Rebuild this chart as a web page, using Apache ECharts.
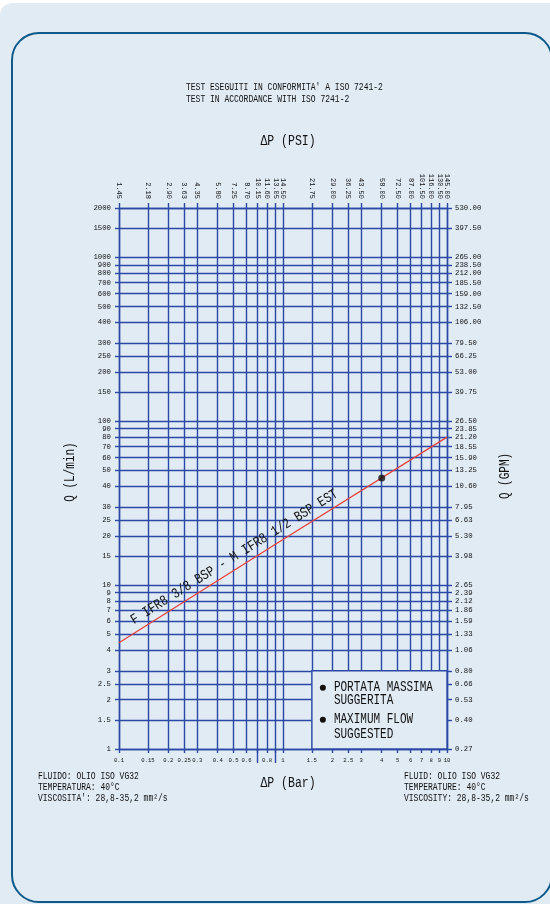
<!DOCTYPE html>
<html><head><meta charset="utf-8">
<script src="https://cdn.jsdelivr.net/npm/echarts@6/dist/echarts.min.js"></script>
<style>
html,body{margin:0;padding:0;background:#ffffff;width:550px;height:904px;overflow:hidden}
#bg{position:absolute;left:0;top:3px;width:550px;height:901px;background:#e0ebf4;border-top-left-radius:12px}
#frame{position:absolute;left:11px;top:32px;width:542px;height:871px;border:2.5px solid #0d5a8a;border-radius:28px;box-sizing:border-box}
#chart{position:absolute;left:0;top:0;width:550px;height:904px}
</style></head><body>
<div id="bg"></div><div id="frame"></div><div id="chart"></div>
<script>
// ---- data ----
const barTicks = [0.1,0.15,0.2,0.25,0.3,0.4,0.5,0.6,0.7,0.8,0.9,1,1.5,2,2.5,3,4,5,6,7,8,9,10];
const barLabelTicks = [0.1,0.15,0.2,0.25,0.3,0.4,0.5,0.6,0.8,1,1.5,2,2.5,3,4,5,6,7,8,9,10];
const barLongTicks = [0.7,0.9];
const psiLabels = ['1.45','2.18','2.90','3.63','4.35','5.80','7.25','8.70','10.15','11.60','13.05','14.50','21.75','29.00','36.25','43.50','58.00','72.50','87.00','101.50','116.00','130.50','145.00'];
const qTicks = [1,1.5,2,2.5,3,4,5,6,7,8,9,10,15,20,25,30,40,50,60,70,80,90,100,150,200,250,300,400,500,600,700,800,900,1000,1500,2000];
const gpmLabels = ['0.27','0.40','0.53','0.66','0.80','1.06','1.33','1.59','1.86','2.12','2.39','2.65','3.98','5.30','6.63','7.95','10.60','13.25','15.90','18.55','21.20','23.85','26.50','39.75','53.00','66.25','79.50','106.00','132.50','159.00','185.50','212.00','238.50','265.00','397.50','530.00'];
const curveDp = [0.1, 1, 10];
const curveQ = [4.45, 19, 80];
const maxPoint = [4, 45];
const curveName = 'F IFR8 3/8 BSP - M IFR8 1/2 BSP EST';
const legendBox = [[1.5, 3], [10, 1]];

// ---- styles ----
const GRID = '#2b48a4';
const TXT = '#111111';
const FONT = '"Liberation Mono", "DejaVu Sans Mono", monospace';

function nearestIdx(arr, v) {
  let best = 0, bd = Infinity;
  arr.forEach((a, i) => { const d = Math.abs(Math.log(a) - Math.log(v)); if (d < bd) { bd = d; best = i; } });
  return best;
}

const chart = echarts.init(document.getElementById('chart'), null, {renderer: 'canvas'});
const lineStyle = {color: GRID, width: 1.4};
chart.setOption({
  backgroundColor: 'transparent',
  animation: false,
  grid: {left: 119, right: 103, top: 208, bottom: 155},
  xAxis: [
    {
      type: 'log', logBase: 10, min: 0.1, max: 10, position: 'bottom',
      axisLine: {show: true, lineStyle},
      axisTick: {show: true, customValues: barTicks, length: 4, lineStyle},
      axisLabel: {show: true, customValues: barLabelTicks, margin: 9, fontSize: 5.6, fontFamily: FONT, color: TXT,
        formatter: v => String(barLabelTicks[nearestIdx(barLabelTicks, v)])},
      splitLine: {show: true, lineStyle},
      minorTick: {show: false}
    },
    {
      type: 'log', logBase: 10, min: 0.1, max: 10, position: 'top',
      axisLine: {show: true, lineStyle},
      axisTick: {show: true, customValues: barTicks, length: 5, lineStyle},
      axisLabel: {show: true, customValues: barTicks, rotate: 90, margin: 9, fontSize: 7, fontFamily: FONT, color: TXT,
        formatter: v => psiLabels[nearestIdx(barTicks, v)]},
      splitLine: {show: false}
    },
    {
      type: 'log', logBase: 10, min: 0.1, max: 10, position: 'bottom',
      axisLine: {show: false},
      axisTick: {show: true, customValues: barLongTicks, length: 14, lineStyle},
      axisLabel: {show: false},
      splitLine: {show: false}
    }
  ],
  yAxis: [
    {
      type: 'log', logBase: 10, min: 1, max: 2000, position: 'left',
      axisLine: {show: true, lineStyle},
      axisTick: {show: true, customValues: qTicks, length: 4, lineStyle},
      axisLabel: {show: true, customValues: qTicks, margin: 8, fontSize: 7.3, fontFamily: FONT, color: TXT,
        formatter: v => String(qTicks[nearestIdx(qTicks, v)])},
      splitLine: {show: true, lineStyle}
    },
    {
      type: 'log', logBase: 10, min: 1, max: 2000, position: 'right',
      axisLine: {show: true, lineStyle},
      axisTick: {show: true, customValues: qTicks, length: 5, lineStyle},
      axisLabel: {show: true, customValues: qTicks, margin: 8, fontSize: 7.3, fontFamily: FONT, color: TXT,
        formatter: v => gpmLabels[nearestIdx(qTicks, v)]},
      splitLine: {show: false}
    }
  ],
  series: [
    {
      type: 'line', xAxisIndex: 0, yAxisIndex: 0,
      data: curveDp.map((d, i) => [d, curveQ[i]]),
      showSymbol: false, symbol: 'none',
      lineStyle: {color: '#e8403a', width: 1.3},
      z: 3,
      markArea: {
        silent: true,
        itemStyle: {color: '#e0ebf4', borderColor: GRID, borderWidth: 1.4, opacity: 1},
        data: [[{coord: legendBox[0]}, {coord: legendBox[1]}]]
      }
    },
    {
      type: 'scatter', xAxisIndex: 0, yAxisIndex: 0,
      data: [maxPoint], symbol: 'circle', symbolSize: 7,
      itemStyle: {color: '#111111'}, z: 4
    }
  ]
});

const toPx = p => chart.convertToPixel({xAxisIndex: 0, yAxisIndex: 0}, p);
const p0 = toPx([curveDp[0], curveQ[0]]);
const p1 = toPx([curveDp[curveDp.length - 1], curveQ[curveQ.length - 1]]);
const ang = Math.atan2(p0[1] - p1[1], p1[0] - p0[0]);
const f = 0.37;
const anc = [p0[0] + f * (p1[0] - p0[0]), p0[1] + f * (p1[1] - p0[1])];
const off = 4;
const ancOff = [anc[0] - off * Math.sin(ang), anc[1] - off * Math.cos(ang)];
const box = toPx(legendBox[0]);

const SY = 1.25;
const txt = (x, y, text, extra, rot) => ({
  type: 'text', x, y, z: 10, scaleY: SY, rotation: rot || 0,
  style: Object.assign({text, fill: TXT, font: '8px ' + FONT, textAlign: 'left', textVerticalAlign: 'middle'}, extra || {})
});

chart.setOption({
  graphic: [
    txt(186, 87, "TEST ESEGUITI IN CONFORMITA' A ISO 7241-2"),
    txt(186, 99, 'TEST IN ACCORDANCE WITH ISO 7241-2'),
    txt(288, 141, 'ΔP (PSI)', {font: '11.5px ' + FONT, textAlign: 'center'}),
    txt(288, 783, 'ΔP (Bar)', {font: '11.5px ' + FONT, textAlign: 'center'}),
    txt(70, 472, 'Q (L/min)', {font: '11px ' + FONT, textAlign: 'center'}, Math.PI / 2),
    txt(505, 476, 'Q (GPM)', {font: '11px ' + FONT, textAlign: 'center'}, Math.PI / 2),
    txt(38, 776, 'FLUIDO: OLIO ISO VG32'),
    txt(38, 787, 'TEMPERATURA: 40°C'),
    txt(38, 798, 'VISCOSITA\': 28,8-35,2 mm²/s'),
    txt(404, 776, 'FLUID: OLIO ISO VG32'),
    txt(404, 787, 'TEMPERATURE: 40°C'),
    txt(404, 798, 'VISCOSITY: 28,8-35,2 mm²/s'),
    txt(ancOff[0], ancOff[1], curveName, {font: '11.5px ' + FONT, textAlign: 'center', textVerticalAlign: 'bottom'}, ang),
    {type: 'circle', z: 10, shape: {cx: box[0] + 11, cy: box[1] + 17, r: 3}, style: {fill: '#111'}},
    {type: 'circle', z: 10, shape: {cx: box[0] + 11, cy: box[1] + 49, r: 3}, style: {fill: '#111'}},
    txt(box[0] + 22, box[1] + 17, 'PORTATA MASSIMA', {font: '11px ' + FONT}),
    txt(box[0] + 22, box[1] + 30, 'SUGGERITA', {font: '11px ' + FONT}),
    txt(box[0] + 22, box[1] + 49, 'MAXIMUM FLOW', {font: '11px ' + FONT}),
    txt(box[0] + 22, box[1] + 64, 'SUGGESTED', {font: '11px ' + FONT})
  ]
});
</script>
</body></html>
